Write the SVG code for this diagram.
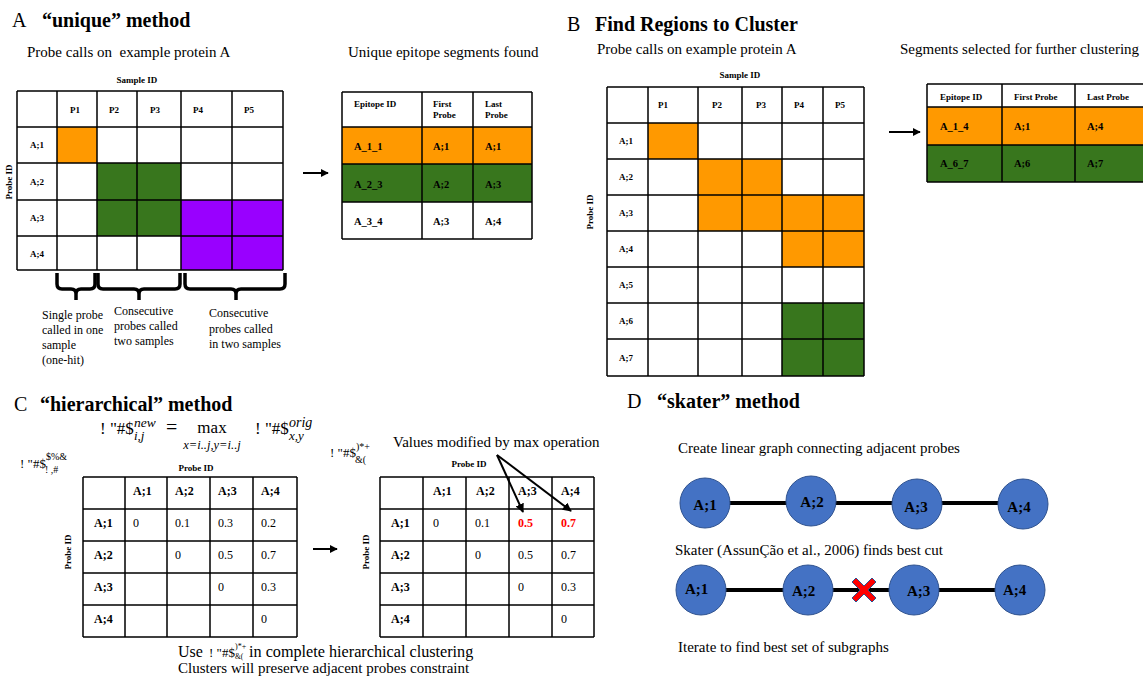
<svg xmlns="http://www.w3.org/2000/svg" width="1143" height="677" viewBox="0 0 1143 677">
<defs>
<marker id="ah" viewBox="0 0 10 10" refX="9" refY="5" markerWidth="4" markerHeight="4" orient="auto" markerUnits="strokeWidth">
<path d="M0,0 L10,5 L0,10 Z" fill="#000"/>
</marker>
<marker id="ah2" viewBox="0 0 10 10" refX="9" refY="5" markerWidth="4.5" markerHeight="4.5" orient="auto" markerUnits="strokeWidth">
<path d="M0,0 L10,5 L0,10 Z" fill="#000"/>
</marker>
</defs>
<style>
text{font-family:"Liberation Serif","Times New Roman",serif;fill:#000}
.title{font-size:20px}
.b{font-weight:bold}
.body{font-size:15px}
.small{font-size:12px}
.lbl{font-size:9px;font-weight:bold}
.cell{font-size:10.5px;font-weight:bold}
.ct{font-size:12px}
.nd{font-size:15px;font-weight:bold}
.grid{fill:none;stroke:#000;stroke-width:1.5}
.or{fill:#FF9900}
.gr{fill:#38761D}
.pu{fill:#9900FF}
.arr{stroke:#000;stroke-width:2;fill:none;marker-end:url(#ah)}
.brace{stroke:#000;stroke-width:3.5;fill:none;stroke-linecap:butt}
.edge{stroke:#000;stroke-width:4}
.node{fill:#4472C4;stroke:#2F528F;stroke-width:1}
.it{font-style:italic}
</style>
<rect width="1143" height="677" fill="#fff"/>

<!-- Panel A -->
<g id="panelA-title">
<text class="title" x="12" y="27">A</text>
<text class="title b" x="42" y="27">“unique” method</text>
<text class="body" x="27" y="57" xml:space="preserve">Probe calls on  example protein A</text>
<text class="body" x="348" y="57">Unique epitope segments found</text>
</g>
<g id="tableA">
<rect class="or" x="57" y="127" width="40" height="36"/>
<rect class="gr" x="97" y="163" width="84" height="73"/>
<rect class="pu" x="181" y="200" width="102" height="70"/>
<path class="grid" d="M17 91V270M57 91V270M97 91V270M137 91V270M181 91V270M232 91V270M283 91V270M17 91H283M17 127H283M17 163H283M17 200H283M17 236H283M17 270H283"/>
<text class="lbl" x="137" y="83" text-anchor="middle">Sample ID</text>
<text class="lbl" transform="translate(12,182) rotate(-90)" text-anchor="middle">Probe ID</text>
<text class="lbl" x="70" y="113">P1</text>
<text class="lbl" x="109" y="113">P2</text>
<text class="lbl" x="150" y="113">P3</text>
<text class="lbl" x="193" y="113">P4</text>
<text class="lbl" x="244" y="113">P5</text>
<text class="lbl" x="30" y="148">A;1</text>
<text class="lbl" x="30" y="185">A;2</text>
<text class="lbl" x="30" y="221">A;3</text>
<text class="lbl" x="30" y="257">A;4</text>
</g>
<g id="bracesA">
<path class="brace" d="M57 273V284Q57 289 62 289H71Q76 289 76 294V300M76 294Q76 289 81 289H90Q95 289 95 284V273"/>
<path class="brace" d="M98 273V284Q98 289 103 289H134Q139 289 139 294V300M139 294Q139 289 144 289H175Q180 289 180 284V273"/>
<path class="brace" d="M185 273V284Q185 289 190 289H231Q236 289 236 294V300M236 294Q236 289 241 289H280Q285 289 285 284V273"/>
<text class="small" x="42" y="319">Single probe</text>
<text class="small" x="42" y="334">called in one</text>
<text class="small" x="42" y="349">sample</text>
<text class="small" x="42" y="364">(one-hit)</text>
<text class="small" x="114" y="315">Consecutive</text>
<text class="small" x="114" y="330">probes called</text>
<text class="small" x="114" y="345">two samples</text>
<text class="small" x="209" y="317">Consecutive</text>
<text class="small" x="209" y="333">probes called</text>
<text class="small" x="209" y="348">in two samples</text>
</g>
<g id="epitopeA">
<rect class="or" x="342" y="127" width="190" height="37"/>
<rect class="gr" x="342" y="164" width="190" height="38"/>
<path class="grid" d="M342 92V239M422 92V239M473 92V239M532 92V239M342 92H532M342 127H532M342 164H532M342 202H532M342 239H532"/>
<text class="lbl" x="354" y="107">Epitope ID</text>
<text class="lbl" x="433" y="107">First</text>
<text class="lbl" x="433" y="118">Probe</text>
<text class="lbl" x="485" y="107">Last</text>
<text class="lbl" x="485" y="118">Probe</text>
<text class="cell" x="354" y="150">A_1_1</text>
<text class="cell" x="433" y="150">A;1</text>
<text class="cell" x="485" y="150">A;1</text>
<text class="cell" x="354" y="188">A_2_3</text>
<text class="cell" x="433" y="188">A;2</text>
<text class="cell" x="485" y="188">A;3</text>
<text class="cell" x="354" y="225">A_3_4</text>
<text class="cell" x="433" y="225">A;3</text>
<text class="cell" x="485" y="225">A;4</text>
</g>

<!-- Panel B -->
<g id="panelB-title">
<text class="title" x="567" y="31">B</text>
<text class="title b" x="595" y="31">Find Regions to Cluster</text>
<text class="body" x="597" y="54">Probe calls on example protein A</text>
<text class="body" x="900" y="54">Segments selected for further clustering</text>
</g>
<g id="tableB">
<rect class="or" x="648" y="123" width="50" height="36"/>
<rect class="or" x="698" y="159" width="84" height="36"/>
<rect class="or" x="698" y="195" width="166" height="36"/>
<rect class="or" x="782" y="231" width="82" height="36"/>
<rect class="gr" x="782" y="303" width="82" height="73"/>
<path class="grid" d="M607 87V376M648 87V376M698 87V376M742 87V376M782 87V376M823 87V376M864 87V376M607 87H864M607 123H864M607 159H864M607 195H864M607 231H864M607 267H864M607 303H864M607 339H864M607 376H864"/>
<text class="lbl" x="740" y="78" text-anchor="middle">Sample ID</text>
<text class="lbl" transform="translate(593,212) rotate(-90)" text-anchor="middle">Probe ID</text>
<text class="lbl" x="658" y="108">P1</text>
<text class="lbl" x="712" y="108">P2</text>
<text class="lbl" x="756" y="108">P3</text>
<text class="lbl" x="794" y="108">P4</text>
<text class="lbl" x="835" y="108">P5</text>
<text class="lbl" x="619" y="144">A;1</text>
<text class="lbl" x="619" y="180">A;2</text>
<text class="lbl" x="619" y="216">A;3</text>
<text class="lbl" x="619" y="252">A;4</text>
<text class="lbl" x="619" y="288">A;5</text>
<text class="lbl" x="619" y="324">A;6</text>
<text class="lbl" x="619" y="361">A;7</text>
</g>
<g id="segmentsB">
<rect class="or" x="927" y="107" width="230" height="38"/>
<rect class="gr" x="927" y="145" width="230" height="37"/>
<path class="grid" d="M927 84V182M1002 84V182M1075 84V182M927 84H1150M927 107H1150M927 145H1150M927 182H1150"/>
<text class="lbl" x="940" y="100">Epitope ID</text>
<text class="lbl" x="1014" y="100">First Probe</text>
<text class="lbl" x="1087" y="100">Last Probe</text>
<text class="cell" x="940" y="130">A_1_4</text>
<text class="cell" x="1014" y="130">A;1</text>
<text class="cell" x="1087" y="130">A;4</text>
<text class="cell" x="940" y="167">A_6_7</text>
<text class="cell" x="1014" y="167">A;6</text>
<text class="cell" x="1087" y="167">A;7</text>
</g>

<!-- Panel C -->
<g id="panelC-title">
<text class="title" x="14" y="411">C</text>
<text class="title b" x="40" y="411">“hierarchical” method</text>
</g>
<g id="formulaC">
<text style="font-size:17px" x="100" y="434">! "#$</text>
<text class="it" style="font-size:13.5px" x="134" y="427">new</text>
<text class="it" style="font-size:13px" x="134" y="440">i,j</text>
<text style="font-size:20px" x="166" y="434">=</text>
<text style="font-size:17px" x="212" y="433" text-anchor="middle">max</text>
<text class="it" style="font-size:12.5px" x="212" y="449" text-anchor="middle">x=i..j,y=i..j</text>
<text style="font-size:17px" x="255" y="434">! "#$</text>
<text class="it" style="font-size:14px" x="289" y="427">orig</text>
<text class="it" style="font-size:13px" x="289" y="440">x,y</text>
<text style="font-size:13px" x="20" y="468">! "#$</text>
<text style="font-size:10px" x="46" y="460">$%&amp;</text>
<text style="font-size:10px" x="45" y="473">! ,#</text>
<text style="font-size:13px" x="330" y="457">! "#$</text>
<text style="font-size:10px" x="356" y="450">)*+</text>
<text style="font-size:10px" x="355" y="463">&amp;(</text>
<text class="body" x="393" y="447">Values modified by max operation</text>
</g>
<g id="tableC1">
<path class="grid" d="M83 477V637M125 477V637M167 477V637M210 477V637M253 477V637M297 477V637M83 477H297M83 509H297M83 541H297M83 573H297M83 605H297M83 637H297"/>
<text class="lbl" x="196" y="471" text-anchor="middle">Probe ID</text>
<text class="lbl" transform="translate(71,552) rotate(-90)" text-anchor="middle">Probe ID</text>
<g class="ct b">
<text x="133" y="495">A;1</text><text x="175" y="495">A;2</text><text x="218" y="495">A;3</text><text x="261" y="495">A;4</text>
<text x="94" y="527">A;1</text><text x="94" y="559">A;2</text><text x="94" y="591">A;3</text><text x="94" y="623">A;4</text>
</g>
<g class="ct">
<text x="133" y="527">0</text><text x="175" y="527">0.1</text><text x="218" y="527">0.3</text><text x="261" y="527">0.2</text>
<text x="175" y="559">0</text><text x="218" y="559">0.5</text><text x="261" y="559">0.7</text>
<text x="218" y="591">0</text><text x="261" y="591">0.3</text>
<text x="261" y="623">0</text>
</g>
</g>
<g id="tableC2">
<path class="grid" d="M380 477V637M423 477V637M466 477V637M509 477V637M552 477V637M594 477V637M380 477H594M380 509H594M380 541H594M380 573H594M380 605H594M380 637H594"/>
<text class="lbl" x="469" y="467" text-anchor="middle">Probe ID</text>
<text class="lbl" transform="translate(369,552) rotate(-90)" text-anchor="middle">Probe ID</text>
<g class="ct b">
<text x="433" y="495">A;1</text><text x="476" y="495">A;2</text><text x="518" y="495">A;3</text><text x="561" y="495">A;4</text>
<text x="391" y="527">A;1</text><text x="391" y="559">A;2</text><text x="391" y="591">A;3</text><text x="391" y="623">A;4</text>
</g>
<g class="ct">
<text x="433" y="527">0</text><text x="475" y="527">0.1</text>
<text x="475" y="559">0</text><text x="518" y="559">0.5</text><text x="561" y="559">0.7</text>
<text x="518" y="591">0</text><text x="561" y="591">0.3</text>
<text x="561" y="623">0</text>
</g>
<text class="ct b" x="518" y="527" style="fill:#FF0000">0.5</text>
<text class="ct b" x="561" y="527" style="fill:#FF0000">0.7</text>
</g>
<g id="captionC">
<text style="font-size:16px" x="178" y="657">Use</text>
<text style="font-size:13px" x="209" y="657">! "#$</text>
<text style="font-size:8px" x="235" y="649">)*+</text>
<text style="font-size:7.5px" x="235" y="659">&amp;(</text>
<text style="font-size:16.2px" x="249" y="657">in complete hierarchical clustering</text>
<text class="body" x="178" y="673">Clusters will preserve adjacent probes constraint</text>
</g>

<!-- Panel D -->
<g id="panelD-title">
<text class="title" x="627" y="408">D</text>
<text class="title b" x="657" y="408">“skater” method</text>
<text class="body" x="678" y="453">Create linear graph connecting adjacent probes</text>
<text class="body" x="675" y="555">Skater (AssunÇão et al., 2006) finds best cut</text>
<text class="body" x="678" y="652">Iterate to find best set of subgraphs</text>
</g>

<g id="connectors">
<line class="arr" x1="303" y1="173" x2="328" y2="173"/>
<line class="arr" x1="889" y1="132" x2="920" y2="132"/>
<line class="arr" x1="313" y1="549" x2="337" y2="549"/>
<line class="arr" x1="497" y1="455" x2="523" y2="512" style="marker-end:url(#ah2)"/>
<line class="arr" x1="497" y1="455" x2="571" y2="511" style="marker-end:url(#ah2)"/>
<line class="edge" x1="705" y1="503" x2="1023" y2="503"/>
<line class="edge" x1="701" y1="590" x2="1020" y2="590"/>
</g>

<g id="node-r1-A1"><circle class="node" cx="705" cy="503" r="25"/><text class="nd" x="705" y="510" text-anchor="middle">A;1</text></g>
<g id="node-r1-A2"><circle class="node" cx="811" cy="501" r="25"/><text class="nd" x="812" y="507" text-anchor="middle">A;2</text></g>
<g id="node-r1-A3"><circle class="node" cx="917" cy="504" r="25"/><text class="nd" x="916" y="512" text-anchor="middle">A;3</text></g>
<g id="node-r1-A4"><circle class="node" cx="1023" cy="504" r="25"/><text class="nd" x="1019" y="512" text-anchor="middle">A;4</text></g>

<g id="node-r2-A1"><circle class="node" cx="701" cy="590" r="25"/><text class="nd" x="685" y="594">A;1</text></g>
<g id="node-r2-A2"><circle class="node" cx="808" cy="590" r="25"/><text class="nd" x="792" y="596">A;2</text></g>
<g id="node-r2-A3"><circle class="node" cx="914" cy="590" r="25"/><text class="nd" x="907" y="596">A;3</text></g>
<g id="node-r2-A4"><circle class="node" cx="1020" cy="590" r="25"/><text class="nd" x="1003" y="595">A;4</text></g>

<g id="cut-mark">
<polygon points="852,582 856,578 864,586 872,578 876,582 868,590 876,598 872,602 864,594 856,602 852,598 860,590" fill="#FF0000" stroke="#2F528F" stroke-width="1"/>
</g>
</svg>
